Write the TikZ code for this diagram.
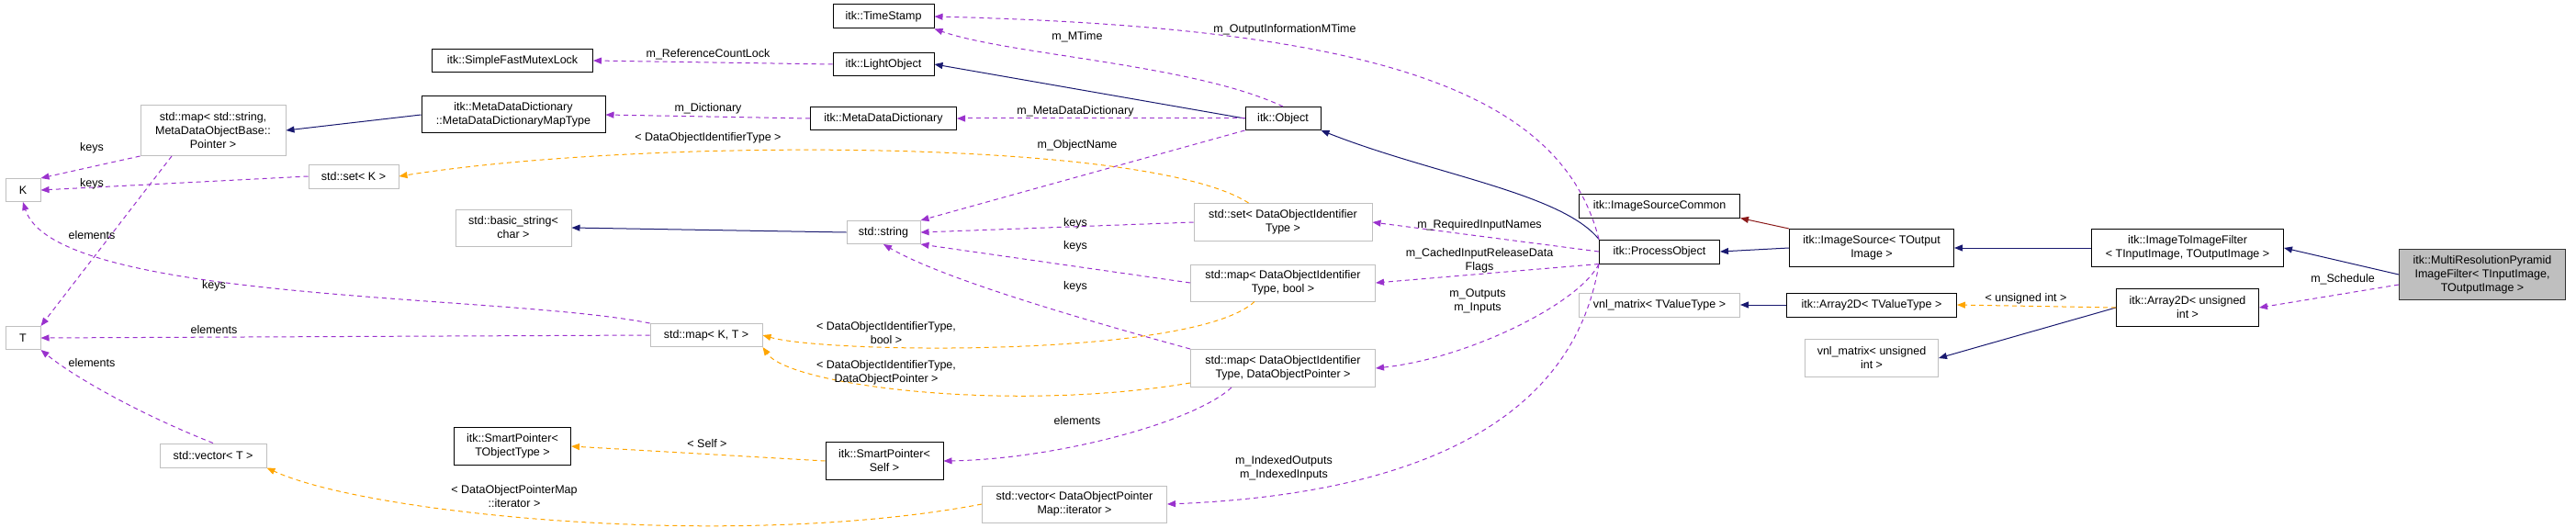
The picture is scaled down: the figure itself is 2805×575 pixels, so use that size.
\documentclass[tikz,border=0pt]{standalone}
\usepackage{fontspec}
\setmainfont{Liberation Sans}
\usetikzlibrary{arrows.meta,positioning}
\definecolor{inh}{HTML}{191970}
\definecolor{use}{HTML}{9A32CD}
\definecolor{tmpl}{HTML}{FFA500}
\definecolor{prot}{HTML}{8B1A1A}
\definecolor{grayline}{HTML}{BFBFBF}
\tikzset{
    >={Triangle[length=9pt,width=7pt]}, % doxygen style heads
    box/.style={draw=black, line width=1pt, fill=white, inner sep=1pt, align=center,
        font=\fontsize{12.5}{15}\selectfont},
    ext/.style={box, draw=grayline},
    cur/.style={box, draw=black!80, fill=grayline},
    lbl/.style={inner sep=0pt, align=center, font=\fontsize{12.5}{15}\selectfont},
    isa/.style={->, draw=inh, line width=1pt},
    prt/.style={->, draw=prot, line width=1pt},
    has/.style={->, draw=use, line width=1pt, dash pattern=on 5pt off 4pt},
    tpl/.style={->, draw=tmpl, line width=1pt, dash pattern=on 5pt off 4pt},
}
\begin{document}
\begin{tikzpicture}[x=1pt, y=-1pt]
    \useasboundingbox (0,0) rectangle (2805,575);
    % classes
    \node[box, minimum width=110, minimum height=26] (ts) at (962,18) {itk::TimeStamp};
    \node[box, minimum width=175, minimum height=25] (sfml) at (558,66) {itk::SimpleFastMutexLock};
    \node[box, minimum width=110, minimum height=25] (lo) at (962,70) {itk::LightObject};
    \node[box, minimum width=200, minimum height=40] (mddmt) at (559,125) {itk::MetaDataDictionary\\::MetaDataDictionaryMapType};
    \node[box, minimum width=159, minimum height=25] (mdd) at (962,129) {itk::MetaDataDictionary};
    \node[ext, minimum width=158, minimum height=55] (mapss) at (232,142) {std::map< std::string,\\MetaDataObjectBase::\\Pointer >};
    \node[ext, minimum width=38, minimum height=25] (kk) at (25,207) {K};
    \node[ext, minimum width=98, minimum height=26] (setk) at (385,192) {std::set< K >};
    \node[ext, minimum width=126, minimum height=40] (bstr) at (559,248) {std::basic\_string<\\char >};
    \node[ext, minimum width=38, minimum height=25] (tt) at (25,368) {T};
    \node[ext, minimum width=122, minimum height=25] (mapkt) at (769,365) {std::map< K, T >};
    \node[ext, minimum width=116, minimum height=26] (vect) at (232,496) {std::vector< T >};
    \node[box, minimum width=127, minimum height=41] (sptot) at (558,486) {itk::SmartPointer<\\TObjectType >};
    \node[box, minimum width=82, minimum height=25] (obj) at (1397,129) {itk::Object};
    \node[ext, minimum width=80, minimum height=25] (str) at (962,253) {std::string};
    \node[ext, minimum width=194, minimum height=41] (setid) at (1397,242) {std::set< DataObjectIdentifier\\Type >};
    \node[ext, minimum width=201, minimum height=40] (mapb) at (1397,308) {std::map< DataObjectIdentifier\\Type, bool >};
    \node[ext, minimum width=201, minimum height=41] (mapdop) at (1397,401) {std::map< DataObjectIdentifier\\Type, DataObjectPointer >};
    \node[box, minimum width=128, minimum height=41] (spself) at (963,502) {itk::SmartPointer<\\Self >};
    \node[ext, minimum width=201, minimum height=40] (veci) at (1170,549) {std::vector< DataObjectPointer\\Map::iterator >};
    \node[box, minimum width=175, minimum height=26] (isc) at (1807,224) {itk::ImageSourceCommon};
    \node[box, minimum width=131, minimum height=26] (po) at (1807,274) {itk::ProcessObject};
    \node[ext, minimum width=175, minimum height=26] (vnlt) at (1807,332) {vnl\_matrix< TValueType >};
    \node[box, minimum width=179, minimum height=41] (is) at (2038,270) {itk::ImageSource< TOutput\\Image >};
    \node[box, minimum width=209, minimum height=41] (itif) at (2382,270) {itk::ImageToImageFilter\\< TInputImage, TOutputImage >};
    \node[cur, minimum width=181, minimum height=55] (mrpif) at (2703,299) {itk::MultiResolutionPyramid\\ImageFilter< TInputImage,\\TOutputImage >};
    \node[box, minimum width=185, minimum height=26] (a2t) at (2038,332) {itk::Array2D< TValueType >};
    \node[box, minimum width=155, minimum height=41] (a2u) at (2382,335) {itk::Array2D< unsigned\\int >};
    \node[ext, minimum width=145, minimum height=41] (vnlu) at (2038,390) {vnl\_matrix< unsigned\\int >};

    % inheritance
    \draw[isa] (mddmt.west) -- (mapss.east);
    \draw[isa] (obj.west) -- (lo.east);
    \draw[isa] (str.west) -- (bstr.east);
    \draw[isa] (po.north west) .. controls (1700,210) and (1560,190) .. (obj.south east);
    \draw[isa] (is.west) -- (po.east);
    \draw[isa] (itif.west) -- (is.east);
    \draw[isa] (mrpif.west) -- (itif.east);
    \draw[isa] (a2t.west) -- (vnlt.east);
    \draw[isa] (a2u.west) -- (vnlu.east);
    \draw[prt] (is.north west) -- (isc.south east);

    % members
    \draw[has] (lo.west) -- (sfml.east);
    \draw[has] (obj.north) .. controls (1300,70) and (1100,60) .. (ts.south east);
    \draw[has] (po.north west) .. controls (1700,100) and (1500,30) .. (ts.east);
    \draw[has] (mdd.west) -- (mddmt.east);
    \draw[has] (obj.west) -- (mdd.east);
    \draw[has] (obj.south west) -- (str.north east);
    \draw[has] (mapss.south west) -- (kk.north east);
    \draw[has] (mapss.south) ++(-45,0) -- (tt.north east);
    \draw[has] (setk.west) -- (kk.east);
    \draw[has] (mapkt.north west) .. controls (550,320) and (60,330) .. (kk.south);
    \draw[has] (mapkt.west) -- (tt.east);
    \draw[has] (vect.north) .. controls (150,450) and (80,410) .. (tt.south east);
    \draw[has] (setid.west) -- (str.east);
    \draw[has] (mapb.west) -- (str.south east);
    \draw[has] (mapdop.north west) .. controls (1150,340) and (1020,300) .. (str.south);
    \draw[has] (po.west) -- (setid.east);
    \draw[has] (po.south west) -- (mapb.east);
    \draw[has] (po.south west) .. controls (1720,330) and (1600,390) .. (mapdop.east);
    \draw[has] (po.south west) .. controls (1710,480) and (1500,540) .. (veci.east);
    \draw[has] (mapdop.south west) ++(45,0) .. controls (1300,460) and (1150,500) .. (spself.east);
    \draw[has] (mrpif.west) ++(0,11) -- (a2u.east);

    % template instances
    \draw[tpl] (setid.north west) ++(60,0) .. controls (1250,150) and (700,150) .. (setk.east);
    \draw[tpl] (mapb.south west) ++(70,0) .. controls (1300,390) and (900,385) .. (mapkt.east);
    \draw[tpl] (mapdop.west) ++(0,16) .. controls (1100,450) and (860,420) .. (mapkt.south east);
    \draw[tpl] (spself.west) -- (sptot.east);
    \draw[tpl] (veci.west) .. controls (800,600) and (400,560) .. (vect.south east);
    \draw[tpl] (a2u.west) -- (a2t.east);

    % labels
    \node[lbl] (l1) at (771,59) {m\_ReferenceCountLock};
    \node[lbl] (l2) at (771,118) {m\_Dictionary};
    \node[lbl] (l3) at (771,150) {< DataObjectIdentifierType >};
    \node[lbl] (l4) at (100,161) {keys};
    \node[lbl] (l5) at (100,200) {keys};
    \node[lbl] (l6) at (100,256) {elements};
    \node[lbl] (l7) at (233,311) {keys};
    \node[lbl] (l8) at (233,359) {elements};
    \node[lbl] (l9) at (100,395) {elements};
    \node[lbl] (l10) at (965,363) {< DataObjectIdentifierType,\\bool >};
    \node[lbl] (l11) at (965,406) {< DataObjectIdentifierType,\\DataObjectPointer >};
    \node[lbl] (l12) at (770,483) {< Self >};
    \node[lbl] (l13) at (560,541) {< DataObjectPointerMap\\::iterator >};
    \node[lbl] (l14) at (1173,40) {m\_MTime};
    \node[lbl] (l15) at (1399,32) {m\_OutputInformationMTime};
    \node[lbl] (l16) at (1171,121) {m\_MetaDataDictionary};
    \node[lbl] (l17) at (1173,158) {m\_ObjectName};
    \node[lbl] (l18) at (1171,243) {keys};
    \node[lbl] (l19) at (1171,268) {keys};
    \node[lbl] (l20) at (1171,312) {keys};
    \node[lbl] (l21) at (1611,245) {m\_RequiredInputNames};
    \node[lbl] (l22) at (1611,284) {m\_CachedInputReleaseData\\Flags};
    \node[lbl] (l23) at (1609,328) {m\_Outputs\\m\_Inputs};
    \node[lbl] (l24) at (1173,458) {elements};
    \node[lbl] (l25) at (1398,510) {m\_IndexedOutputs\\m\_IndexedInputs};
    \node[lbl] (l26) at (2206,325) {< unsigned int >};
    \node[lbl] (l27) at (2551,304) {m\_Schedule};
\end{tikzpicture}
\end{document}
